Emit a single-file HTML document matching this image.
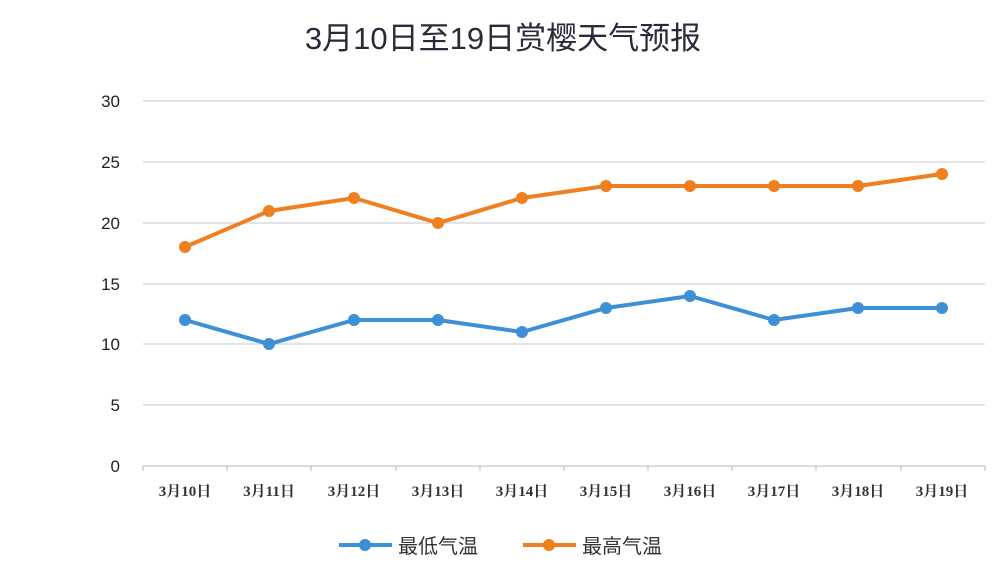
<!DOCTYPE html>
<html><head><meta charset="utf-8"><style>body{margin:0;background:#fff}svg{display:block}</style></head>
<body>
<svg width="1000" height="575" viewBox="0 0 1000 575" xmlns="http://www.w3.org/2000/svg">
<rect width="1000" height="575" fill="#fff"/>
<text x="503" y="49" text-anchor="middle" font-family="Liberation Sans, Noto Sans CJK SC, sans-serif" font-size="31" fill="#2a2a3a">3月10日至19日赏樱天气预报</text>
<g stroke="#d0d3da" stroke-width="1.2">
<line x1="143" x2="985" y1="101" y2="101"/><line x1="143" x2="985" y1="162" y2="162"/><line x1="143" x2="985" y1="223" y2="223"/><line x1="143" x2="985" y1="284" y2="284"/><line x1="143" x2="985" y1="344" y2="344"/><line x1="143" x2="985" y1="405" y2="405"/><line x1="143" x2="985" y1="466" y2="466" stroke="#c0c3ca"/>
</g>
<g stroke="#c0c3ca" stroke-width="1.2">
<line x1="143" x2="143" y1="466" y2="471"/><line x1="227" x2="227" y1="466" y2="471"/><line x1="311" x2="311" y1="466" y2="471"/><line x1="396" x2="396" y1="466" y2="471"/><line x1="480" x2="480" y1="466" y2="471"/><line x1="564" x2="564" y1="466" y2="471"/><line x1="648" x2="648" y1="466" y2="471"/><line x1="732" x2="732" y1="466" y2="471"/><line x1="816" x2="816" y1="466" y2="471"/><line x1="901" x2="901" y1="466" y2="471"/><line x1="985" x2="985" y1="466" y2="471"/>
</g>
<g font-family="Liberation Sans, sans-serif" font-size="17" fill="#222" text-anchor="end">
<text x="120" y="107">30</text><text x="120" y="168">25</text><text x="120" y="229">20</text><text x="120" y="290">15</text><text x="120" y="350">10</text><text x="120" y="411">5</text><text x="120" y="472">0</text>
</g>
<g font-family="Liberation Serif, Noto Serif CJK SC, serif" font-size="15" font-weight="bold" fill="#333" text-anchor="middle">
<text x="185" y="496">3月10日</text><text x="269" y="496">3月11日</text><text x="354" y="496">3月12日</text><text x="438" y="496">3月13日</text><text x="522" y="496">3月14日</text><text x="606" y="496">3月15日</text><text x="690" y="496">3月16日</text><text x="774" y="496">3月17日</text><text x="858" y="496">3月18日</text><text x="942" y="496">3月19日</text>
</g>
<polyline fill="none" stroke="#f07f1f" stroke-width="4" points="185,247 269,211 354,198 438,223 522,198 606,186 690,186 774,186 858,186 942,174"/>
<g fill="#f07f1f"><circle cx="185" cy="247" r="6"/><circle cx="269" cy="211" r="6"/><circle cx="354" cy="198" r="6"/><circle cx="438" cy="223" r="6"/><circle cx="522" cy="198" r="6"/><circle cx="606" cy="186" r="6"/><circle cx="690" cy="186" r="6"/><circle cx="774" cy="186" r="6"/><circle cx="858" cy="186" r="6"/><circle cx="942" cy="174" r="6"/></g>
<polyline fill="none" stroke="#3d8fd6" stroke-width="4" points="185,320 269,344 354,320 438,320 522,332 606,308 690,296 774,320 858,308 942,308"/>
<g fill="#3d8fd6"><circle cx="185" cy="320" r="6"/><circle cx="269" cy="344" r="6"/><circle cx="354" cy="320" r="6"/><circle cx="438" cy="320" r="6"/><circle cx="522" cy="332" r="6"/><circle cx="606" cy="308" r="6"/><circle cx="690" cy="296" r="6"/><circle cx="774" cy="320" r="6"/><circle cx="858" cy="308" r="6"/><circle cx="942" cy="308" r="6"/></g>
<line x1="339" x2="392" y1="545" y2="545" stroke="#3d8fd6" stroke-width="4"/><circle cx="365" cy="545" r="6" fill="#3d8fd6"/>
<text x="398" y="553" font-family="Liberation Sans, Noto Sans CJK SC, sans-serif" font-size="20" fill="#333">最低气温</text>
<line x1="523" x2="576" y1="545" y2="545" stroke="#f07f1f" stroke-width="4"/><circle cx="549" cy="545" r="6" fill="#f07f1f"/>
<text x="582" y="553" font-family="Liberation Sans, Noto Sans CJK SC, sans-serif" font-size="20" fill="#333">最高气温</text>
</svg>
</body></html>
